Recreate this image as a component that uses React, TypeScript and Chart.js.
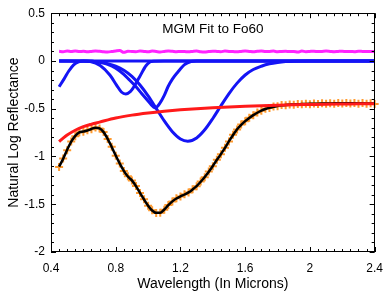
import { useEffect, useRef } from "react";
import { Chart, registerables } from "chart.js";
Chart.register(...registerables);

// ---- data ----
const wavelengths = [
  0.45, 0.475, 0.5, 0.525, 0.55, 0.575, 0.6, 0.625, 0.65, 0.675,
  0.7, 0.725, 0.75, 0.775, 0.8, 0.825, 0.85, 0.875, 0.9, 0.925,
  0.95, 0.975, 1.0, 1.025, 1.05, 1.075, 1.1, 1.125, 1.15, 1.175,
  1.2, 1.225, 1.25, 1.275, 1.3, 1.325, 1.35, 1.375, 1.4, 1.425,
  1.45, 1.475, 1.5, 1.525, 1.55, 1.575, 1.6, 1.625, 1.65, 1.675,
  1.7, 1.725, 1.75, 1.775, 1.8, 1.825, 1.85, 1.875, 1.9, 1.925,
  1.95, 1.975, 2.0, 2.025, 2.05, 2.075, 2.1, 2.125, 2.15, 2.175,
  2.2, 2.225, 2.25, 2.275, 2.3, 2.325, 2.35, 2.375, 2.4,
];

const fitted = [
  -1.106, -1.025, -0.93, -0.845, -0.785, -0.748, -0.738, -0.728, -0.712, -0.698,
  -0.705, -0.745, -0.815, -0.9, -0.99, -1.075, -1.15, -1.21, -1.25, -1.31,
  -1.38, -1.45, -1.515, -1.565, -1.59, -1.59, -1.555, -1.51, -1.47, -1.44,
  -1.418, -1.398, -1.376, -1.345, -1.31, -1.265, -1.215, -1.16, -1.1, -1.035,
  -0.975, -0.91, -0.84, -0.775, -0.715, -0.668, -0.63, -0.596, -0.567, -0.542,
  -0.52, -0.503, -0.49, -0.48, -0.471, -0.465, -0.461, -0.458, -0.455, -0.453,
  -0.451, -0.45, -0.449, -0.448, -0.447, -0.446, -0.445, -0.445, -0.444, -0.444,
  -0.443, -0.443, -0.443, -0.443, -0.444, -0.444, -0.445, -0.446, -0.447,
];

const observed = [
  -1.11, -1.022, -0.934, -0.843, -0.788, -0.746, -0.74, -0.726, -0.714, -0.697,
  -0.707, -0.743, -0.817, -0.898, -0.992, -1.073, -1.152, -1.208, -1.252, -1.308,
  -1.382, -1.448, -1.517, -1.563, -1.592, -1.588, -1.557, -1.508, -1.472, -1.438,
  -1.42, -1.396, -1.378, -1.343, -1.312, -1.263, -1.217, -1.158, -1.102, -1.033,
  -0.977, -0.908, -0.842, -0.773, -0.717, -0.666, -0.632, -0.594, -0.569, -0.54,
  -0.522, -0.5, -0.493, -0.477, -0.474, -0.462, -0.464, -0.455, -0.458, -0.45,
  -0.454, -0.447, -0.452, -0.445, -0.45, -0.443, -0.448, -0.442, -0.447, -0.441,
  -0.446, -0.44, -0.446, -0.44, -0.447, -0.441, -0.448, -0.443, -0.45,
];

const residual = [
  0.101, 0.097, 0.104, 0.1, 0.105, 0.098, 0.102, 0.096, 0.1, 0.104,
  0.101, 0.097, 0.095, 0.099, 0.105, 0.11, 0.09, 0.102, 0.099, 0.097,
  0.104, 0.1, 0.096, 0.103, 0.099, 0.095, 0.1, 0.104, 0.101, 0.097,
  0.1, 0.099, 0.096, 0.1, 0.103, 0.097, 0.095, 0.099, 0.102, 0.1,
  0.097, 0.104, 0.1, 0.098, 0.096, 0.1, 0.103, 0.1, 0.097, 0.101,
  0.104, 0.099, 0.1, 0.103, 0.097, 0.1, 0.101, 0.098, 0.1, 0.093,
  0.104, 0.097, 0.1, 0.102, 0.098, 0.1, 0.103, 0.1, 0.097, 0.1,
  0.102, 0.098, 0.1, 0.097, 0.102, 0.1, 0.098, 0.1, 0.097,
];

const continuumX = [0.45, 0.475, 0.5, 0.55, 0.6, 0.65, 0.7, 0.8, 0.9, 1.0, 1.1, 1.2, 1.3, 1.4, 1.5, 1.6, 1.7, 1.8, 1.9, 2.0, 2.1, 2.2, 2.3, 2.4];
const continuumY = [-0.845, -0.808, -0.775, -0.725, -0.688, -0.662, -0.64, -0.597, -0.567, -0.545, -0.527, -0.512, -0.5, -0.49, -0.481, -0.474, -0.468, -0.463, -0.459, -0.456, -0.453, -0.451, -0.449, -0.447];

const band1X = [0.45, 0.48, 0.51, 0.54, 0.57, 0.6, 0.7, 2.4];
const band1Y = [-0.27, -0.19, -0.105, -0.04, -0.01, 0, 0, 0];

const band2X = [0.45, 0.6, 0.643, 0.704, 0.765, 0.805, 0.835, 0.862, 0.89, 0.906, 0.947, 0.988, 1.02, 1.1, 2.4];
const band2Y = [0, 0, -0.005, -0.048, -0.15, -0.253, -0.325, -0.346, -0.32, -0.287, -0.168, -0.048, -0.005, 0, 0];

const band3X = [0.45, 0.62, 0.66, 0.7, 0.75, 0.8, 0.85, 0.88, 0.92, 0.96, 1.0, 1.02, 1.04, 1.055, 1.07, 1.1, 1.123, 1.15, 1.184, 1.225, 1.265, 1.3, 2.4];
const band3Y = [0, 0, -0.004, -0.012, -0.035, -0.075, -0.14, -0.19, -0.26, -0.34, -0.42, -0.46, -0.49, -0.48, -0.45, -0.36, -0.27, -0.19, -0.116, -0.038, -0.005, 0, 0];

const band4X = [0.45, 0.65, 0.7, 0.75, 0.8, 0.85, 0.9, 0.95, 1.0, 1.05, 1.1, 1.15, 1.2, 1.245, 1.3, 1.35, 1.4, 1.45, 1.5, 1.55, 1.6, 1.65, 1.7, 1.75, 1.8, 1.85, 1.9, 2.0, 2.4];
const band4Y = [0, -0.004, -0.014, -0.028, -0.054, -0.097, -0.161, -0.252, -0.366, -0.496, -0.628, -0.741, -0.817, -0.84, -0.806, -0.721, -0.602, -0.469, -0.341, -0.232, -0.147, -0.09, -0.055, -0.03, -0.015, -0.006, -0.002, 0, 0];

const xTicks = [0.4, 0.8, 1.2, 1.6, 2, 2.4];
const yTicks = [0.5, 0, -0.5, -1, -1.5, -2];
const xMinorStep = 0.05;
const yMinorStep = 0.1;
const chartTitle = "MGM Fit to Fo60";
const xTitle = "Wavelength (In Microns)";
const yTitle = "Natural Log Reflectance";

const FONT = "'Liberation Sans', Arial, Helvetica, sans-serif";

const pts = (xs: number[], ys: number[]) => xs.map((x, i) => ({ x, y: ys[i] }));

const framePlugin = {
  id: "frame",
  afterDatasetsDraw(chart: any) {
    const { ctx, chartArea: a, scales } = chart;
    const x = scales.x;
    const y = scales.y;
    ctx.save();
    ctx.strokeStyle = "#000";
    ctx.lineWidth = 1;
    ctx.strokeRect(Math.round(a.left) + 0.5, Math.round(a.top) + 0.5, Math.round(a.right - a.left) - 1, Math.round(a.bottom - a.top) - 1);
    ctx.beginPath();
    const nx = Math.round((x.max - x.min) / xMinorStep);
    for (let i = 0; i <= nx; i++) {
      const v = x.min + i * xMinorStep;
      const major = xTicks.some((t) => Math.abs(t - v) < 1e-6);
      const len = major ? 5 : 3;
      const px = Math.round(x.getPixelForValue(v)) + 0.5;
      ctx.moveTo(px, a.bottom);
      ctx.lineTo(px, a.bottom - len);
      ctx.moveTo(px, a.top);
      ctx.lineTo(px, a.top + len);
    }
    const ny = Math.round((y.max - y.min) / yMinorStep);
    for (let i = 0; i <= ny; i++) {
      const v = y.min + i * yMinorStep;
      const major = yTicks.some((t) => Math.abs(t - v) < 1e-6);
      const len = major ? 5 : 3;
      const py = Math.round(y.getPixelForValue(v)) + 0.5;
      ctx.moveTo(a.left, py);
      ctx.lineTo(a.left + len, py);
      ctx.moveTo(a.right, py);
      ctx.lineTo(a.right - len, py);
    }
    ctx.stroke();
    ctx.fillStyle = "#000";
    ctx.font = `13.5px ${FONT}`;
    ctx.textAlign = "center";
    ctx.textBaseline = "middle";
    ctx.fillText(chartTitle, (a.left + a.right) / 2, a.top + 16);
    ctx.restore();
  },
};

export default function App() {
  const ref = useRef<HTMLCanvasElement>(null);
  useEffect(() => {
    document.body.style.margin = "0";
    const canvas = ref.current;
    if (!canvas) return;
    const lineCommon = {
      showLine: true,
      pointRadius: 0,
      fill: false,
      cubicInterpolationMode: "monotone" as const,
    };
    const blue = "#1414f5";
    const chart = new Chart(canvas, {
      type: "scatter",
      data: {
        datasets: [
          { ...lineCommon, label: "residual", data: pts(wavelengths, residual), borderColor: "#ff22ff", borderWidth: 3, order: 9 },
          { ...lineCommon, label: "band1", data: pts(band1X, band1Y), borderColor: blue, borderWidth: 3, order: 8 },
          { ...lineCommon, label: "band2", data: pts(band2X, band2Y), borderColor: blue, borderWidth: 3, order: 8 },
          { ...lineCommon, label: "band3", data: pts(band3X, band3Y), borderColor: blue, borderWidth: 3, order: 8 },
          { ...lineCommon, label: "band4", data: pts(band4X, band4Y), borderColor: blue, borderWidth: 3, order: 8 },
          {
            label: "observed",
            data: pts(wavelengths, observed),
            showLine: false,
            pointStyle: "cross",
            pointRadius: 4,
            pointBorderWidth: 2,
            borderColor: "#ff9a2e",
            backgroundColor: "#ff9a2e",
            clip: false,
            order: 7,
          },
          { ...lineCommon, label: "fit", data: pts(wavelengths, fitted), borderColor: "#000", borderWidth: 2.5, order: 6 },
          { ...lineCommon, label: "continuum", data: pts(continuumX, continuumY), borderColor: "#ff1a1a", borderWidth: 3, order: 5 },
        ],
      },
      options: {
        responsive: false,
        animation: false,
        layout: { padding: { top: 8, right: 12, left: 0, bottom: 0 } },
        plugins: { legend: { display: false }, tooltip: { enabled: false } },
        scales: {
          x: {
            type: "linear",
            min: 0.4,
            max: 2.4,
            grid: { display: false, drawTicks: false },
            border: { display: false },
            afterBuildTicks: (s: any) => {
              s.ticks = xTicks.map((v) => ({ value: v }));
            },
            afterFit: (s: any) => {
              s.height = 46;
            },
            ticks: {
              color: "#000",
              font: { family: FONT, size: 12 },
              padding: 9,
              maxRotation: 0,
              autoSkip: false,
              callback: (v: any) => String(v),
            },
            title: {
              display: true,
              text: xTitle,
              color: "#000",
              font: { family: FONT, size: 14 },
              padding: { top: 0, bottom: 5 },
            },
          },
          y: {
            type: "linear",
            min: -2,
            max: 0.5,
            grid: { display: false, drawTicks: false },
            border: { display: false },
            afterBuildTicks: (s: any) => {
              s.ticks = yTicks.map((v) => ({ value: v }));
            },
            afterFit: (s: any) => {
              s.width = 51;
            },
            ticks: {
              color: "#000",
              font: { family: FONT, size: 12 },
              padding: 6,
              autoSkip: false,
              callback: (v: any) => String(v),
            },
            title: {
              display: true,
              text: yTitle,
              color: "#000",
              font: { family: FONT, size: 14 },
              padding: { top: 6, bottom: 0 },
            },
          },
        },
      },
      plugins: [framePlugin],
    });
    return () => chart.destroy();
  }, []);
  return (
    <div style={{ width: 392, height: 298 }}>
      <canvas ref={ref} width={392} height={298} style={{ display: "block" }} />
    </div>
  );
}
